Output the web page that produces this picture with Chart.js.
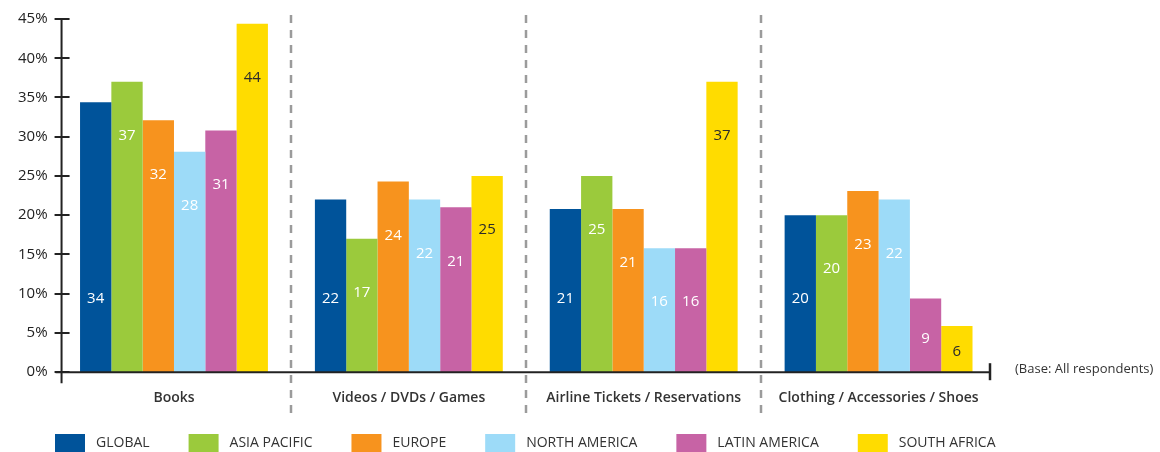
<!DOCTYPE html>
<html>
<head>
<meta charset="utf-8">
<script src="https://cdn.jsdelivr.net/npm/chart.js@4.4.1/dist/chart.umd.min.js"></script>
<style>
  html, body { margin: 0; padding: 0; background: #fff; }
  #wrap { width: 1160px; height: 452px; position: relative; }
</style>
</head>
<body>
<div id="wrap"><canvas id="purchasechart"></canvas></div>
<script>
// categories and regions
var categories = ['Books', 'Videos / DVDs / Games', 'Airline Tickets / Reservations', 'Clothing / Accessories / Shoes'];
var regions = ['GLOBAL', 'ASIA PACIFIC', 'EUROPE', 'NORTH AMERICA', 'LATIN AMERICA', 'SOUTH AFRICA'];

// % of respondents, one array per region (same order as categories)
var globalPct       = [34.4, 22, 20.8, 20];
var asiaPacificPct  = [37, 17, 25, 20];
var europePct       = [32.1, 24.3, 20.8, 23.1];
var northAmericaPct = [28.1, 22, 15.8, 22];
var latinAmericaPct = [30.8, 21, 15.8, 9.4];
var southAfricaPct  = [44.4, 25, 37, 5.9];

var yTicks = [0, 5, 10, 15, 20, 25, 30, 35, 40, 45];
var baseNote = '(Base: All respondents)';

var colors = ['#00539a', '#9bca3c', '#f7931e', '#9ddbf8', '#c763a5', '#ffdc00'];
var FONT = "'Open Sans', 'Noto Sans', sans-serif";

var series = [globalPct, asiaPacificPct, europePct, northAmericaPct, latinAmericaPct, southAfricaPct];

// axes, separators, bar labels, legend and note
var decor = {
  id: 'decor',
  afterDatasetsDraw: function (chart) {
    var ctx = chart.ctx;
    ctx.save();
    ctx.font = '15px ' + FONT;
    ctx.textAlign = 'center';
    ctx.textBaseline = 'middle';
    chart.data.datasets.forEach(function (ds, di) {
      var meta = chart.getDatasetMeta(di);
      ctx.fillStyle = di === 5 ? '#2b2b2b' : '#ffffff';
      meta.data.forEach(function (bar, i) {
        var y;
        if (di === 0) {
          y = chart.scales.y.getPixelForValue(9.4);
        } else {
          y = Math.min(bar.y + 54, (bar.y + bar.base) / 2 + 3);
        }
        ctx.fillText(String(Math.round(ds.data[i])), bar.x, y);
      });
    });
    ctx.restore();
  },
  afterDraw: function (chart) {
    var ctx = chart.ctx;
    var area = chart.chartArea;
    var xs = chart.scales.x, ys = chart.scales.y;
    var y0 = ys.getPixelForValue(0);
    var axisX = area.left + 5;
    ctx.save();

    // dashed separators between categories
    ctx.strokeStyle = '#9b9b9b';
    ctx.lineWidth = 2.5;
    ctx.setLineDash([8, 7]);
    for (var i = 0; i < categories.length - 1; i++) {
      var sx = Math.round((xs.getPixelForValue(i) + xs.getPixelForValue(i + 1)) / 2);
      ctx.beginPath();
      ctx.moveTo(sx, area.top - 4);
      ctx.lineTo(sx, y0 + 45);
      ctx.stroke();
    }
    ctx.setLineDash([]);

    // y axis with crossing ticks
    ctx.strokeStyle = '#222';
    ctx.lineWidth = 2;
    ctx.beginPath();
    ctx.moveTo(axisX, ys.getPixelForValue(45));
    ctx.lineTo(axisX, y0 + 11);
    ctx.stroke();
    ys.ticks.forEach(function (t) {
      var ty = Math.round(ys.getPixelForValue(t.value));
      ctx.beginPath();
      ctx.moveTo(axisX - 7, ty);
      ctx.lineTo(axisX + 8, ty);
      ctx.stroke();
    });

    // x axis with end tick
    var endX = area.right - 6;
    ctx.beginPath();
    ctx.moveTo(area.left - 1, y0);
    ctx.lineTo(endX, y0);
    ctx.stroke();
    ctx.lineWidth = 2.5;
    ctx.beginPath();
    ctx.moveTo(endX, y0 - 9);
    ctx.lineTo(endX, y0 + 8);
    ctx.stroke();

    // base note
    ctx.fillStyle = '#333';
    ctx.font = '13px ' + FONT;
    ctx.textAlign = 'left';
    ctx.textBaseline = 'middle';
    ctx.fillText(baseNote, 1015, y0 - 3);

    // legend
    var lx = 55, ly = 434;
    ctx.font = '500 14px ' + FONT;
    chart.data.datasets.forEach(function (ds) {
      ctx.fillStyle = ds.backgroundColor;
      ctx.fillRect(lx, ly, 30, 18);
      ctx.fillStyle = '#333';
      ctx.fillText(ds.label, lx + 41, ly + 9);
      lx += 41 + ctx.measureText(ds.label).width + 39;
    });
    ctx.restore();
  }
};

var ctx = document.getElementById('purchasechart');
var myChart = new Chart(ctx, {
  type: 'bar',
  data: {
    labels: categories,
    datasets: regions.map(function (r, i) {
      return {
        label: r,
        data: series[i],
        backgroundColor: colors[i],
        borderWidth: 0,
        categoryPercentage: 0.8,
        barPercentage: 1.0
      };
    })
  },
  options: {
    responsive: true,
    maintainAspectRatio: false,
    animation: false,
    devicePixelRatio: 1,
    layout: {
      padding: { left: 9, right: 164, top: 19, bottom: 29 }
    },
    plugins: {
      legend: { display: false },
      tooltip: { enabled: false }
    },
    scales: {
      x: {
        grid: { display: false, drawTicks: false },
        border: { display: false },
        ticks: {
          padding: 17,
          color: '#333',
          font: { family: FONT, size: 14, weight: '600' }
        }
      },
      y: {
        min: 0,
        max: 45,
        afterBuildTicks: function (axis) {
          axis.ticks = yTicks.map(function (v) { return { value: v }; });
        },
        grid: { display: false, drawTicks: false },
        border: { display: false },
        ticks: {
          padding: 9,
          color: '#222',
          font: { family: FONT, size: 15 },
          callback: function (v) { return v + '%'; }
        }
      }
    }
  },
  plugins: [decor]
});
</script>
</body>
</html>
